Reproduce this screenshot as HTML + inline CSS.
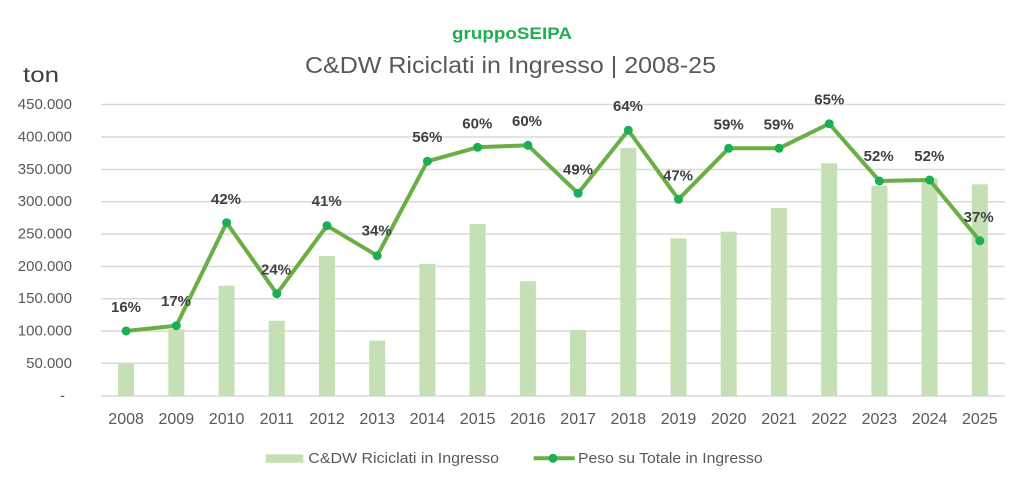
<!DOCTYPE html>
<html><head><meta charset="utf-8"><style>
html,body{margin:0;padding:0;background:#fff;}
svg{display:block;font-family:"Liberation Sans",sans-serif;}
</style></head><body>
<svg width="1024" height="487" viewBox="0 0 1024 487" xmlns="http://www.w3.org/2000/svg">
<rect width="1024" height="487" fill="#fff"/>
<text x="512" y="39" text-anchor="middle" font-size="17" font-weight="bold" fill="#1DAF50" textLength="120" lengthAdjust="spacingAndGlyphs">gruppoSEIPA</text>
<text x="510.5" y="73" text-anchor="middle" font-size="23" fill="#595959" textLength="411" lengthAdjust="spacingAndGlyphs">C&amp;DW Riciclati in Ingresso | 2008-25</text>
<text x="23" y="82" font-size="21" fill="#404040" textLength="36" lengthAdjust="spacingAndGlyphs">ton</text>
<g stroke="#D9D9D9" stroke-width="1.5">
<line x1="101" x2="1005" y1="104.5" y2="104.5"/>
<line x1="101" x2="1005" y1="137" y2="137"/>
<line x1="101" x2="1005" y1="169.5" y2="169.5"/>
<line x1="101" x2="1005" y1="201.7" y2="201.7"/>
<line x1="101" x2="1005" y1="234" y2="234"/>
<line x1="101" x2="1005" y1="266.5" y2="266.5"/>
<line x1="101" x2="1005" y1="298.7" y2="298.7"/>
<line x1="101" x2="1005" y1="331" y2="331"/>
<line x1="101" x2="1005" y1="363.3" y2="363.3"/>
<line x1="101" x2="1005" y1="396" y2="396"/>
</g>
<g font-size="15" fill="#595959" text-anchor="end" dominant-baseline="central">
<text x="72" y="104.5">450.000</text>
<text x="72" y="137">400.000</text>
<text x="72" y="169.5">350.000</text>
<text x="72" y="201.7">300.000</text>
<text x="72" y="234">250.000</text>
<text x="72" y="266.5">200.000</text>
<text x="72" y="298.7">150.000</text>
<text x="72" y="331">100.000</text>
<text x="72" y="363.3">50.000</text>
<text x="65" y="396">-</text>
</g>
<g fill="#C5E0B4">
<rect x="118.1" y="363.3" width="16" height="32.7"/>
<rect x="168.3" y="329.3" width="16" height="66.7"/>
<rect x="218.6" y="285.7" width="16" height="110.3"/>
<rect x="268.8" y="320.7" width="16" height="75.3"/>
<rect x="319" y="256" width="16" height="140"/>
<rect x="369.2" y="340.7" width="16" height="55.3"/>
<rect x="419.4" y="264" width="16" height="132"/>
<rect x="469.6" y="224" width="16" height="172"/>
<rect x="519.9" y="281.3" width="16" height="114.7"/>
<rect x="570.1" y="330" width="16" height="66"/>
<rect x="620.3" y="148" width="16" height="248"/>
<rect x="670.5" y="238.3" width="16" height="157.7"/>
<rect x="720.7" y="231.7" width="16" height="164.3"/>
<rect x="771" y="208" width="16" height="188"/>
<rect x="821.2" y="163.3" width="16" height="232.7"/>
<rect x="871.4" y="185.7" width="16" height="210.3"/>
<rect x="921.6" y="178.3" width="16" height="217.7"/>
<rect x="971.8" y="184.3" width="16" height="211.7"/>
</g>
<polyline fill="none" stroke="#6AAF45" stroke-width="4" stroke-linejoin="round" points="126.1,331 176.3,325.7 226.6,222.7 276.8,293.7 327,225.7 377.2,255.7 427.4,161.3 477.6,147.3 527.9,145.3 578.1,193.3 628.3,130.3 678.5,199.3 728.7,148.3 779,148.3 829.2,123.7 879.4,181 929.6,180 979.8,240.7"/>
<g fill="#1AAF54">
<circle cx="126.1" cy="331" r="4.5"/>
<circle cx="176.3" cy="325.7" r="4.5"/>
<circle cx="226.6" cy="222.7" r="4.5"/>
<circle cx="276.8" cy="293.7" r="4.5"/>
<circle cx="327" cy="225.7" r="4.5"/>
<circle cx="377.2" cy="255.7" r="4.5"/>
<circle cx="427.4" cy="161.3" r="4.5"/>
<circle cx="477.6" cy="147.3" r="4.5"/>
<circle cx="527.9" cy="145.3" r="4.5"/>
<circle cx="578.1" cy="193.3" r="4.5"/>
<circle cx="628.3" cy="130.3" r="4.5"/>
<circle cx="678.5" cy="199.3" r="4.5"/>
<circle cx="728.7" cy="148.3" r="4.5"/>
<circle cx="779" cy="148.3" r="4.5"/>
<circle cx="829.2" cy="123.7" r="4.5"/>
<circle cx="879.4" cy="181" r="4.5"/>
<circle cx="929.6" cy="180" r="4.5"/>
<circle cx="979.8" cy="240.7" r="4.5"/>
</g>
<g font-size="15" font-weight="bold" fill="#404040" text-anchor="middle" dominant-baseline="central">
<text x="126" y="307.7">16%</text>
<text x="176" y="301.7">17%</text>
<text x="226" y="199.3">42%</text>
<text x="276" y="270">24%</text>
<text x="326.7" y="201.3">41%</text>
<text x="376.7" y="231">34%</text>
<text x="427.3" y="137.3">56%</text>
<text x="477.3" y="124">60%</text>
<text x="527" y="121.7">60%</text>
<text x="578" y="170">49%</text>
<text x="628" y="106.7">64%</text>
<text x="678" y="176">47%</text>
<text x="728.7" y="125">59%</text>
<text x="778.7" y="125">59%</text>
<text x="829.3" y="100">65%</text>
<text x="878.7" y="156.7">52%</text>
<text x="929.3" y="156.7">52%</text>
<text x="978.7" y="217.3">37%</text>
</g>
<g font-size="16" fill="#595959" text-anchor="middle" dominant-baseline="central">
<text x="126.1" y="419.3">2008</text>
<text x="176.3" y="419.3">2009</text>
<text x="226.6" y="419.3">2010</text>
<text x="276.8" y="419.3">2011</text>
<text x="327" y="419.3">2012</text>
<text x="377.2" y="419.3">2013</text>
<text x="427.4" y="419.3">2014</text>
<text x="477.6" y="419.3">2015</text>
<text x="527.9" y="419.3">2016</text>
<text x="578.1" y="419.3">2017</text>
<text x="628.3" y="419.3">2018</text>
<text x="678.5" y="419.3">2019</text>
<text x="728.7" y="419.3">2020</text>
<text x="779" y="419.3">2021</text>
<text x="829.2" y="419.3">2022</text>
<text x="879.4" y="419.3">2023</text>
<text x="929.6" y="419.3">2024</text>
<text x="979.8" y="419.3">2025</text>
</g>
<rect x="265.7" y="454.3" width="37.6" height="8.4" fill="#C5E0B4"/>
<text x="308.3" y="458.3" font-size="15" fill="#595959" dominant-baseline="central" textLength="190.7" lengthAdjust="spacingAndGlyphs">C&amp;DW Riciclati in Ingresso</text>
<line x1="533.7" x2="574.7" y1="458.3" y2="458.3" stroke="#6AAF45" stroke-width="4"/>
<circle cx="553" cy="458.3" r="4.5" fill="#1AAF54"/>
<text x="578" y="458.3" font-size="15" fill="#595959" dominant-baseline="central" textLength="184.7" lengthAdjust="spacingAndGlyphs">Peso su Totale in Ingresso</text>
</svg>
</body></html>
